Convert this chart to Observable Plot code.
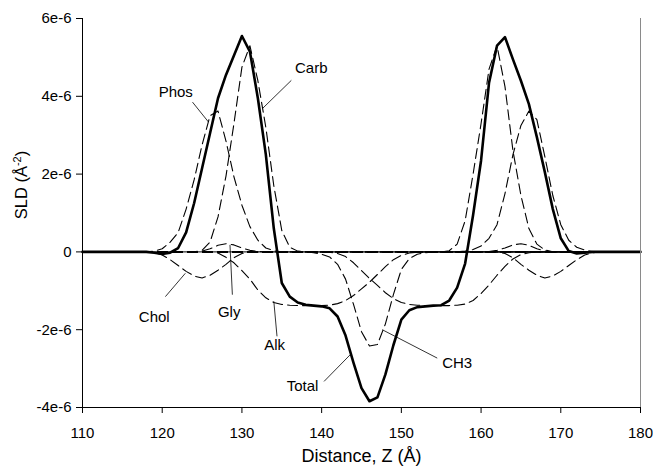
<!DOCTYPE html>
<html><head><meta charset="utf-8">
<script src="https://cdn.jsdelivr.net/npm/d3@7"></script>
<script src="https://cdn.jsdelivr.net/npm/@observablehq/plot@0.6"></script>
<style>body{margin:0;background:#fff} svg{font-family:"Liberation Sans",Arial,sans-serif}</style>
</head><body><div id="chart"></div>
<script>
// Distance Z (Å), 1 Å steps
const z = [110,111,112,113,114,115,116,117,118,119,
           120,121,122,123,124,125,126,127,128,129,
           130,131,132,133,134,135,136,137,138,139,
           140,141,142,143,144,145,146,147,148,149,
           150,151,152,153,154,155,156,157,158,159,
           160,161,162,163,164,165,166,167,168,169,
           170,171,172,173,174,175,176,177,178,179,180];
// SLD values in units of 1e-6 Å^-2
const total = [0,0,0,0,0,0,0,0,0,-0.02,
  -0.05,-0.02,0.1,0.5,1.25,2.15,3.05,3.95,4.55,5.05,
  5.55,5.15,3.95,2.5,0.6,-0.8,-1.15,-1.3,-1.36,-1.38,
  -1.4,-1.45,-1.66,-2.15,-2.85,-3.5,-3.84,-3.74,-3.15,-2.4,
  -1.74,-1.5,-1.42,-1.4,-1.38,-1.37,-1.25,-0.92,-0.3,0.95,
  2.35,4.35,5.3,5.52,4.95,4.4,3.8,2.95,2.05,1.1,
  0.35,0.02,-0.04,-0.02,0,0,0,0,0,0,0];
const cholL = [0,0,0,0,0,0,0,0,0,-0.02,
  -0.08,-0.2,-0.35,-0.5,-0.62,-0.67,-0.6,-0.47,-0.32,-0.15,
  -0.04,0,0,0,0,0,0,0,0,0,
  0,0,0,0,0,0,0,0,0,0,
  0,0,0,0,0,0,0,0,0,0,
  0,0,0,0,0,0,0,0,0,0,
  0,0,0,0,0,0,0,0,0,0,0];
const phosL = [0,0,0,0,0,0,0,0,0,0.02,
  0.08,0.25,0.5,1.1,1.85,2.75,3.5,3.62,2.85,1.93,
  1.2,0.65,0.3,0.1,0.03,0,0,0,0,0,
  0,0,0,0,0,0,0,0,0,0,
  0,0,0,0,0,0,0,0,0,0,
  0,0,0,0,0,0,0,0,0,0,
  0,0,0,0,0,0,0,0,0,0,0];
const glyL = [0,0,0,0,0,0,0,0,0,0,
  0,0,0,0,0,0.02,0.08,0.17,0.21,0.18,
  0.1,0.04,0.01,0,0,0,0,0,0,0,
  0,0,0,0,0,0,0,0,0,0,
  0,0,0,0,0,0,0,0,0,0,
  0,0,0,0,0,0,0,0,0,0,
  0,0,0,0,0,0,0,0,0,0,0];
const carbL = [0,0,0,0,0,0,0,0,0,0,
  0,0,0,0,0,0.04,0.25,0.9,1.95,3.3,
  4.75,5.3,4.4,3.2,1.7,0.55,0.12,0.02,0,0,
  0,0,0,0,0,0,0,0,0,0,
  0,0,0,0,0,0,0,0,0,0,
  0,0,0,0,0,0,0,0,0,0,
  0,0,0,0,0,0,0,0,0,0,0];
const alkL = [0,0,0,0,0,0,0,0,0,0,
  0,0,0,0,0,0,0,-0.03,-0.14,-0.28,
  -0.48,-0.7,-0.98,-1.18,-1.3,-1.35,-1.37,-1.38,-1.38,-1.38,
  -1.38,-1.37,-1.33,-1.25,-1.12,-0.95,-0.78,-0.58,-0.38,-0.2,
  -0.09,-0.03,-0.01,0,0,0,0,0,0,0,
  0,0,0,0,0,0,0,0,0,0,
  0,0,0,0,0,0,0,0,0,0,0];
const ch3 = [0,0,0,0,0,0,0,0,0,0,
  0,0,0,0,0,0,0,0,0,0,
  0,0,0,0,0,0,0,0,0,-0.02,
  -0.06,-0.13,-0.32,-0.7,-1.35,-2.05,-2.42,-2.38,-1.85,-1.1,
  -0.45,-0.17,-0.06,-0.02,0,0,0,0,0,0,
  0,0,0,0,0,0,0,0,0,0,
  0,0,0,0,0,0,0,0,0,0,0];
const alkR = [0,0,0,0,0,0,0,0,0,0,
  0,0,0,0,0,0,0,0,0,0,
  0,0,0,0,0,0,0,0,0,0,
  0,-0.01,-0.04,-0.12,-0.28,-0.48,-0.68,-0.86,-1.05,-1.2,
  -1.3,-1.35,-1.37,-1.38,-1.38,-1.38,-1.38,-1.37,-1.34,-1.25,
  -1.07,-0.85,-0.6,-0.37,-0.18,-0.07,-0.02,0,0,0,
  0,0,0,0,0,0,0,0,0,0,0];
const carbR = [0,0,0,0,0,0,0,0,0,0,
  0,0,0,0,0,0,0,0,0,0,
  0,0,0,0,0,0,0,0,0,0,
  0,0,0,0,0,0,0,0,0,0,
  0,0,0,0,0,0,0.03,0.2,0.8,2.0,
  3.3,4.7,5.3,4.25,2.6,1.45,0.6,0.2,0.05,0,
  0,0,0,0,0,0,0,0,0,0,0];
const phosR = [0,0,0,0,0,0,0,0,0,0,
  0,0,0,0,0,0,0,0,0,0,
  0,0,0,0,0,0,0,0,0,0,
  0,0,0,0,0,0,0,0,0,0,
  0,0,0,0,0,0,0,0,0.02,0.06,
  0.15,0.35,0.7,1.5,2.5,3.25,3.62,3.4,2.45,1.45,
  0.7,0.3,0.12,0.05,0.01,0,0,0,0,0,0];
const glyR = [0,0,0,0,0,0,0,0,0,0,
  0,0,0,0,0,0,0,0,0,0,
  0,0,0,0,0,0,0,0,0,0,
  0,0,0,0,0,0,0,0,0,0,
  0,0,0,0,0,0,0,0,0,0,
  0,0.01,0.04,0.1,0.18,0.21,0.17,0.08,0.02,0,
  0,0,0,0,0,0,0,0,0,0,0];
const cholR = [0,0,0,0,0,0,0,0,0,0,
  0,0,0,0,0,0,0,0,0,0,
  0,0,0,0,0,0,0,0,0,0,
  0,0,0,0,0,0,0,0,0,0,
  0,0,0,0,0,0,0,0,0,0,
  0,0,0,-0.04,-0.15,-0.32,-0.47,-0.6,-0.67,-0.62,
  -0.5,-0.35,-0.2,-0.08,-0.02,0,0,0,0,0,0];

const xTicks = [110,120,130,140,150,160,170,180];
const yTicks = [-4,-2,0,2,4,6];
const yTickLabels = ["-4e-6","-2e-6","0","2e-6","4e-6","6e-6"];

// annotations (data coordinates)
const labelText = ["Phos","Carb","Chol","Gly","Alk","Total","CH3"];
const labelZ    = [121.7,138.7,119.0,128.4,134.1,137.6,157.0];
const labelS    = [4.10,4.72,-1.69,-1.54,-2.41,-3.46,-2.87];
const leadZ1 = [123.8,136.2,120.4,128.8,134.4,140.3,154.5];
const leadS1 = [3.85,4.41,-1.15,-1.10,-2.17,-3.33,-2.73];
const leadZ2 = [125.8,132.6,122.9,128.5,134.0,143.6,147.6];
const leadS2 = [3.34,3.69,-0.55,0.18,-1.27,-2.64,-2.00];

const components = {cholL, phosL, glyL, carbL, alkL, ch3, alkR, carbR, phosR, glyR, cholR};
const compRows = Object.entries(components).flatMap(([key, vals]) => z.map((zz, i) => ({z: zz, v: vals[i], key})));
const totalRows = z.map((zz, i) => ({z: zz, v: total[i]}));
const labels = labelText.map((t, i) => ({t, x: labelZ[i], y: labelS[i]}));
const leaders = labelText.map((t, i) => ({x1: leadZ1[i], y1: leadS1[i], x2: leadZ2[i], y2: leadS2[i]}));

const font = "Liberation Sans, Arial, sans-serif";
const plot = Plot.plot({
  width: 653, height: 472,
  marginLeft: 82, marginRight: 13, marginTop: 18, marginBottom: 65,
  style: {fontFamily: font, fontSize: "15px", background: "white", color: "black", overflow: "visible"},
  x: {domain: [110, 180]},
  y: {domain: [-4, 6]},
  marks: [
    Plot.ruleY([0], {stroke: "black", strokeWidth: 1}),
    Plot.line(compRows, {x: "z", y: "v", z: "key", stroke: "black", strokeWidth: 1.1, strokeDasharray: "10,5"}),
    Plot.line(totalRows, {x: "z", y: "v", stroke: "black", strokeWidth: 2.6}),
    Plot.ruleX([180], {stroke: "#8a8a8a", strokeWidth: 1}),
    Plot.ruleX([110], {stroke: "black", strokeWidth: 1}),
    Plot.ruleY([-4], {stroke: "black", strokeWidth: 1}),
    Plot.axisX({ticks: xTicks, tickSize: 6, tickPadding: 14, tickFormat: d => String(d), label: null, fontSize: 15}),
    Plot.axisY({ticks: yTicks, tickSize: 6, tickPadding: 5, tickFormat: d => yTickLabels[yTicks.indexOf(d)], label: null, fontSize: 15}),
    Plot.link(leaders, {x1: "x1", y1: "y1", x2: "x2", y2: "y2", stroke: "black", strokeWidth: 0.8}),
    Plot.text(labels, {x: "x", y: "y", text: "t", fontSize: 15, fill: "black"}),
    Plot.text(["Distance, Z (Å)"], {frameAnchor: "bottom", dy: 54, fontSize: 18, fill: "black"})
  ]
});
const svg = d3.select(plot);
const t = svg.append("text")
  .attr("transform", "translate(27,185) rotate(-90)")
  .attr("text-anchor", "middle")
  .attr("font-size", 16.5)
  .attr("font-family", font)
  .attr("fill", "black");
t.append("tspan").text("SLD (Å");
t.append("tspan").attr("font-size", 11).attr("dy", -6).text("-2");
t.append("tspan").attr("dy", 6).text(")");
document.getElementById("chart").appendChild(plot);
</script>
</body></html>
